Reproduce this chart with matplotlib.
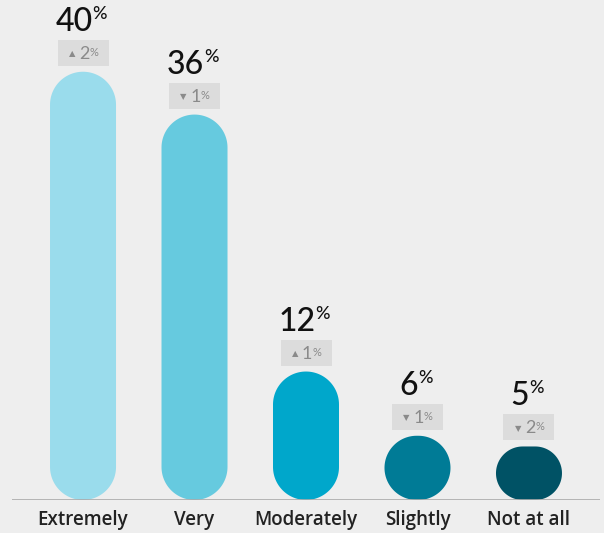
import matplotlib
matplotlib.use("Agg")
import matplotlib.pyplot as plt
from matplotlib.patches import Polygon, Rectangle
import numpy as np

categories = ["Extremely", "Very", "Moderately", "Slightly", "Not at all"]
values = [40, 36, 12, 6, 5]
changes = [2, 1, 1, 1, 2]
directions = ["up", "down", "up", "down", "down"]
colors = ["#9adcec", "#66cadf", "#00a7cb", "#007b96", "#005265"]

plt.rcParams["font.family"] = ["Lato", "DejaVu Sans"]

W, H, DPI = 604, 533, 100
BG = "#eeeeee"
fig = plt.figure(figsize=(W / DPI, H / DPI), dpi=DPI, facecolor=BG)
ax_left, ax_right = 12, 600
base_y = 500
ax = fig.add_axes([ax_left / W, (H - base_y) / H, (ax_right - ax_left) / W, base_y / H])
ax.set_facecolor(BG)
xlim = (-0.637, 4.637)
ylim = (0, 46.7)
ax.set_xlim(*xlim)
ax.set_ylim(*ylim)
ppx = (ax_right - ax_left) / (xlim[1] - xlim[0])
ppy = base_y / (ylim[1] - ylim[0])
PT = 72.0 / DPI  # points per pixel

BAR_W = 66


def pill(xc, h):
    h_px = h * ppy
    r = min(BAR_W / 2, h_px / 2)
    rx, ry = r / ppx, r / ppy
    hw = BAR_W / 2 / ppx
    pts = []
    for a in np.linspace(0, np.pi / 2, 30):
        pts.append((xc + hw - rx + rx * np.cos(a), h - ry + ry * np.sin(a)))
    for a in np.linspace(np.pi / 2, np.pi, 30):
        pts.append((xc - hw + rx + rx * np.cos(a), h - ry + ry * np.sin(a)))
    for a in np.linspace(np.pi, 1.5 * np.pi, 30):
        pts.append((xc - hw + rx + rx * np.cos(a), ry + ry * np.sin(a)))
    for a in np.linspace(1.5 * np.pi, 2 * np.pi, 30):
        pts.append((xc + hw - rx + rx * np.cos(a), ry + ry * np.sin(a)))
    return pts


x = np.arange(len(categories))
for i, (v, c) in enumerate(zip(values, colors)):
    ax.add_patch(Polygon(pill(x[i], v), closed=True, facecolor=c, edgecolor="none"))

    # badge
    bw, bh = 51, 26
    ax.add_patch(Rectangle((x[i] - bw / 2 / ppx, v + 6 / ppy), bw / ppx, bh / ppy,
                           facecolor="#dcdcdc", edgecolor="none"))
    tri = "\u25B2" if directions[i] == "up" else "\u25BC"
    t = ax.annotate(str(changes[i]), xy=(x[i], v), xytext=(1 * PT, 13 * PT),
                    textcoords="offset points", ha="center", va="baseline",
                    fontsize=13, color="#8a8a8a")
    ax.annotate(tri, xy=(x[i], v), xytext=(-11 * PT, 18 * PT),
                textcoords="offset points", ha="center", va="center",
                fontsize=6, color="#8a8a8a", family="DejaVu Sans")
    ax.annotate("%", xy=(1, 1), xycoords=t, xytext=(0 * PT, -1 * PT),
                textcoords="offset points", ha="left", va="top",
                fontsize=8, color="#8a8a8a")

    # value label
    n = ax.annotate(str(v), xy=(x[i], v), xytext=(-9 * PT, 41 * PT),
                    textcoords="offset points", ha="center", va="baseline",
                    fontsize=23, color="#111111", weight="medium")
    ax.annotate("%", xy=(1, 1), xycoords=n, xytext=(0 * PT, 1 * PT),
                textcoords="offset points", ha="left", va="top",
                fontsize=13, color="#111111", weight="medium")

ax.axhline(0, color="#aaaaaa", lw=1.2, zorder=5)
for s in ax.spines.values():
    s.set_visible(False)
ax.set_yticks([])
ax.set_xticks(x)
ax.set_xticklabels(categories, fontsize=13.5, color="#222222", weight="semibold",
                   family=["Open Sans", "DejaVu Sans"])
ax.tick_params(axis="x", length=0, pad=7)

fig.savefig("out.png", dpi=DPI, facecolor=BG)
